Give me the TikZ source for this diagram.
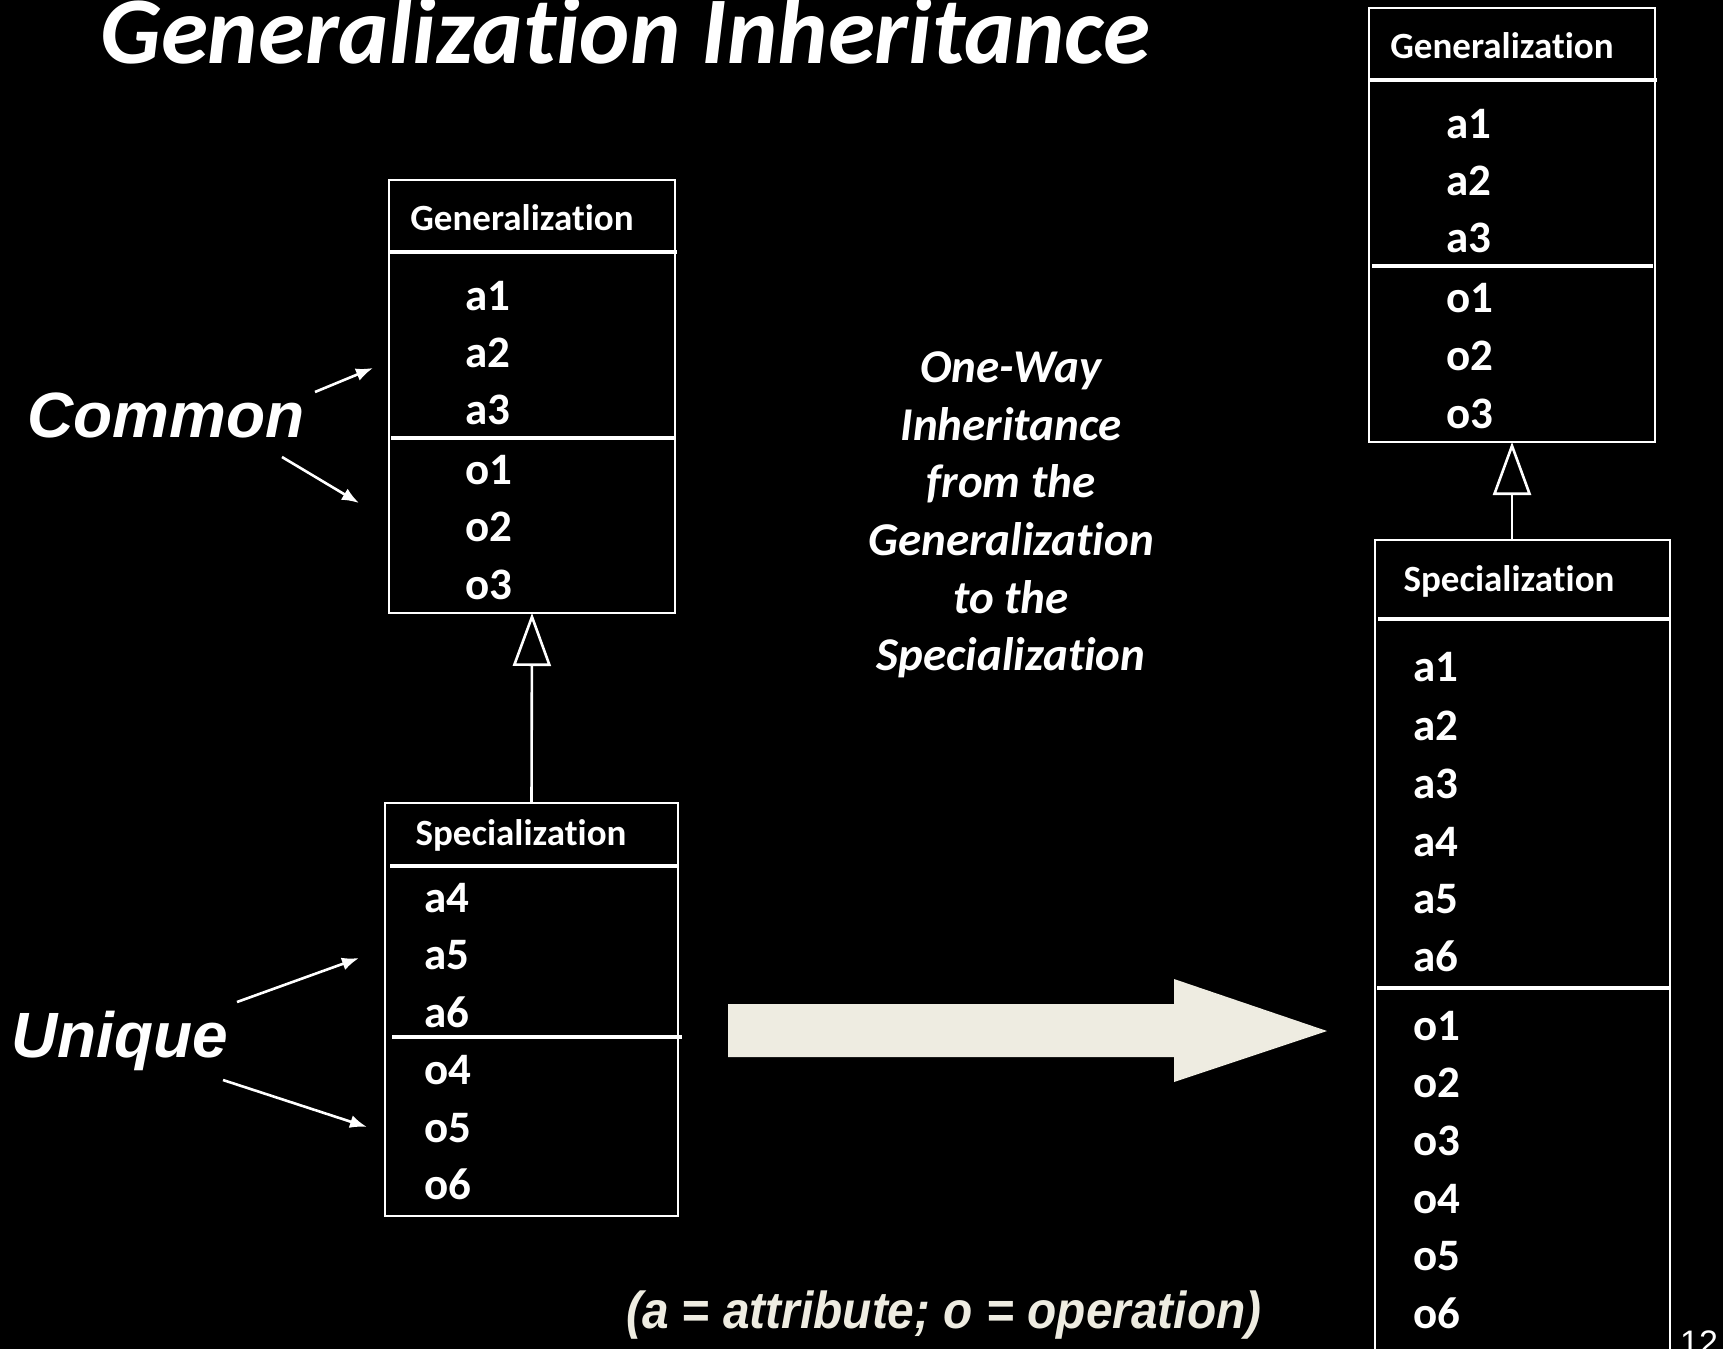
\documentclass[tikz,border=0pt]{standalone}
\usepackage{fontspec}
\usepackage{graphicx}
\setmainfont{Carlito}[Ligatures={NoCommon}]
\newfontfamily\arialfont{Liberation Sans}
\usetikzlibrary{arrows.meta}
\definecolor{paper}{HTML}{EEECE1}
\begin{document}
\begin{tikzpicture}[x=1pt,y=-1pt,
  umlbox/.style={draw=white, line width=2.6pt, rectangle, inner sep=0pt, outer sep=0pt, anchor=north west},
  divider/.style={draw=white, line width=4.6pt},
  item/.style={text=white, font=\fontsize{45}{54}\selectfont\bfseries, inner sep=0pt, anchor=base west},
  header/.style={text=white, font=\fontsize{37}{44}\selectfont\bfseries, inner sep=0pt, anchor=base},
  inherit/.style={draw=white, line width=2.6pt, -{Triangle[open, length=53pt, width=38pt]}},
  pointer/.style={draw=white, line width=2.6pt, -{Latex[length=17pt, width=13pt]}},
  label/.style={text=white, font=\arialfont\fontsize{64}{76}\selectfont\bfseries\itshape, inner sep=0pt, anchor=base west},
  midtext/.style={text=white, font=\fontsize{47}{56}\selectfont\bfseries\itshape, inner sep=0pt, anchor=base},
]
% page and background
\useasboundingbox (0,0) rectangle (1723,1349);
\clip (0,0) rectangle (1723,1349);
\fill[black] (0,0) rectangle (1723,1349);

% title
\node[text=white, font=\fontsize{95.5}{104}\selectfont\bfseries\itshape, inner sep=0pt, anchor=base west]
  (title) at (100,63) {Generalization Inheritance};

% ---------- left: generalization class ----------
\node[umlbox, minimum width=286pt, minimum height=433pt] (genL) at (389,180) {};
\draw[divider] (390,252) -- (677,252);
\draw[divider] (391,438) -- (674,438);
\node[header] (genLh) at (522,230) {Generalization};
\foreach \t/\yy [count=\i] in {a1/310,a2/367,a3/424,o1/484,o2/541,o3/599}
  \node[item] (genL\i) at (465,\yy) {\t};

% ---------- left: specialization class ----------
\node[umlbox, minimum width=293pt, minimum height=413pt] (specL) at (385,803) {};
\draw[divider] (390,866) -- (677,866);
\draw[divider] (392,1037) -- (682,1037);
\node[header] (specLh) at (521,845) {Specialization};
\foreach \t/\yy [count=\i] in {a4/912,a5/969,a6/1027,o4/1084,o5/1142,o6/1199}
  \node[item] (specL\i) at (424,\yy) {\t};

\draw[inherit] (specL.north) -- (genL.south);

% ---------- labels with pointers ----------
\node[label] (common) at (27,437) {Common};
\coordinate (cmA) at (315,392);  \coordinate (cmAe) at (373,368);
\coordinate (cmB) at (282,457);  \coordinate (cmBe) at (359,503);
\draw[pointer] (cmA) -- (cmAe);
\draw[pointer] (cmB) -- (cmBe);

\node[label] (unique) at (11,1057) {Unique};
\coordinate (unA) at (237,1002); \coordinate (unAe) at (359,958);
\coordinate (unB) at (223,1080); \coordinate (unBe) at (367,1127);
\draw[pointer] (unA) -- (unAe);
\draw[pointer] (unB) -- (unBe);

% ---------- middle explanation ----------
\foreach \t/\yy [count=\i] in {One-Way/382,Inheritance/440,from the/497,Generalization/555,to the/613,Specialization/670}
  \node[midtext] (mid\i) at (1011,\yy) {\t};

% block arrow
\fill[paper] (728,1004) -- (1174,1004) -- (1174,979) -- (1327,1031)
  -- (1174,1082) -- (1174,1057) -- (728,1057) -- cycle;

% legend
\node[text=paper, font=\arialfont\fontsize{52}{60}\selectfont\bfseries\itshape, inner sep=0pt, anchor=base west]
  (legend) at (626,1328) {\scalebox{0.92}[1]{(a = attribute; o = operation)}};

% ---------- right: generalization class ----------
\node[umlbox, minimum width=286pt, minimum height=434pt] (genR) at (1369,8) {};
\draw[divider] (1370,80) -- (1657,80);
\draw[divider] (1372,266) -- (1653,266);
\node[header] (genRh) at (1502,58) {Generalization};
\foreach \t/\yy [count=\i] in {a1/138,a2/195,a3/252,o1/312,o2/370,o3/428}
  \node[item] (genR\i) at (1446,\yy) {\t};

% ---------- right: specialization class (runs off the page) ----------
\node[umlbox, minimum width=295pt, minimum height=840pt] (specR) at (1375,540) {};
\draw[divider] (1378,619) -- (1669,619);
\draw[divider] (1377,988) -- (1669,988);
\node[header] (specRh) at (1509,591) {Specialization};
\foreach \t/\yy [count=\i] in {a1/681,a2/740,a3/798,a4/856,a5/913,a6/971,o1/1040,o2/1097,o3/1155,o4/1213,o5/1270,o6/1328}
  \node[item] (specR\i) at (1413,\yy) {\t};

\draw[inherit] (genR.south |- specR.north) -- (genR.south);

% page number
\node[text=white, font=\arialfont\fontsize{34}{40}\selectfont, inner sep=0pt, anchor=base west]
  (pagenum) at (1680,1354) {12};
\end{tikzpicture}
\end{document}
